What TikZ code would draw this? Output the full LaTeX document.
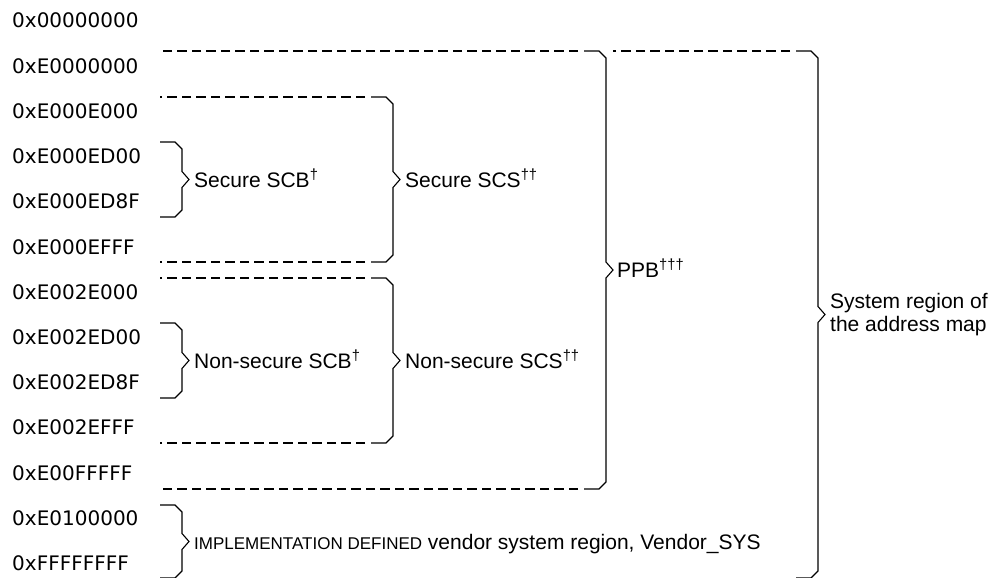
\documentclass[tikz,border=0pt]{standalone}
\usepackage{fontspec}
\setmainfont{Liberation Sans}
\newfontfamily\addrfont{DejaVu Sans}
\usepackage{tikz}
\usetikzlibrary{positioning}
\tikzset {
    node distance=45.2pt,
    every node/.style={inner sep=0pt},
    brace/.style={line width=1.1pt, line join=miter},
    divider/.style={line width=1.1pt, dash pattern=on 9.5pt off 5pt},
    addr/.style={font=\addrfont\fontsize{20}{24}\selectfont, text height=20pt, text depth=5pt},
    region/.style={font=\fontsize{21}{25}\selectfont, text height=20pt, text depth=5pt},
    sysnote/.style={font=\fontsize{21}{23}\selectfont, align=left}
}
% brace: vertical x, top y, bottom y, name of the tip
\newcommand{\regionbrace}[4]{%
    \draw[brace] ({#1-22},#2) -- ({#1-7},#2) -- (#1,{#2+7})
        -- (#1,{(#2+#3)/2-8}) -- ({#1+7},{(#2+#3)/2}) -- (#1,{(#2+#3)/2+8})
        -- (#1,{#3-7}) -- ({#1-7},#3) -- ({#1-22},#3);
    \coordinate (#4) at ({#1+7},{(#2+#3)/2});
}

\begin{document}
\begin{tikzpicture}[x=1pt, y=-1pt]
    \useasboundingbox (0,0) rectangle (993,578);

    % addresses
    \node[addr, anchor=west] (a0) at (12,20.5) {0x00000000};
    \node[addr, below=of a0.west, anchor=west] (a1) {0xE0000000};
    \node[addr, below=of a1.west, anchor=west] (a2) {0xE000E000};
    \node[addr, below=of a2.west, anchor=west] (a3) {0xE000ED00};
    \node[addr, below=of a3.west, anchor=west] (a4) {0xE000ED8F};
    \node[addr, below=of a4.west, anchor=west] (a5) {0xE000EFFF};
    \node[addr, below=of a5.west, anchor=west] (a6) {0xE002E000};
    \node[addr, below=of a6.west, anchor=west] (a7) {0xE002ED00};
    \node[addr, below=of a7.west, anchor=west] (a8) {0xE002ED8F};
    \node[addr, below=of a8.west, anchor=west] (a9) {0xE002EFFF};
    \node[addr, below=of a9.west, anchor=west] (a10) {0xE00FFFFF};
    \node[addr, below=of a10.west, anchor=west] (a11) {0xE0100000};
    \node[addr, below=of a11.west, anchor=west] (a12) {0xFFFFFFFF};

    % dashed boundaries, drawn from the brace end leftwards
    \draw[divider] (578,51) -- (160,51);
    \draw[divider] (790,51) -- (613,51);
    \draw[divider] (365,97) -- (160,97);
    \draw[divider] (365,262) -- (160,262);
    \draw[divider] (365,278) -- (160,278);
    \draw[divider] (365,443) -- (160,443);
    \draw[divider] (578,489) -- (160,489);

    % braces
    \regionbrace{182}{142}{217}{sscbtip}
    \regionbrace{393}{97}{262}{sscstip}
    \regionbrace{182}{323}{398}{nscbtip}
    \regionbrace{393}{278}{443}{nscstip}
    \regionbrace{606}{51}{489}{ppbtip}
    \regionbrace{818}{51}{578}{systip}
    \regionbrace{182}{505}{578}{vendtip}

    % labels
    \node[region, right=5pt of sscbtip] (sscb) {Secure SCB\textsuperscript{\textdagger}};
    \node[region, right=5pt of sscstip] (sscs) {Secure SCS\textsuperscript{\textdagger\textdagger}};
    \node[region, right=5pt of nscbtip] (nscb) {Non-secure SCB\textsuperscript{\textdagger}};
    \node[region, right=5pt of nscstip] (nscs) {Non-secure SCS\textsuperscript{\textdagger\textdagger}};
    \node[region, right=4pt of ppbtip] (ppb) {PPB\textsuperscript{\textdagger\textdagger\textdagger}};
    \node[sysnote, right=5pt of systip] (sys) {System region of\\the address map};
    \node[region, right=5pt of vendtip] (vend) {{\fontsize{17}{20}\selectfont IMPLEMENTATION DEFINED} vendor system region, Vendor\_SYS};
\end{tikzpicture}
\end{document}
